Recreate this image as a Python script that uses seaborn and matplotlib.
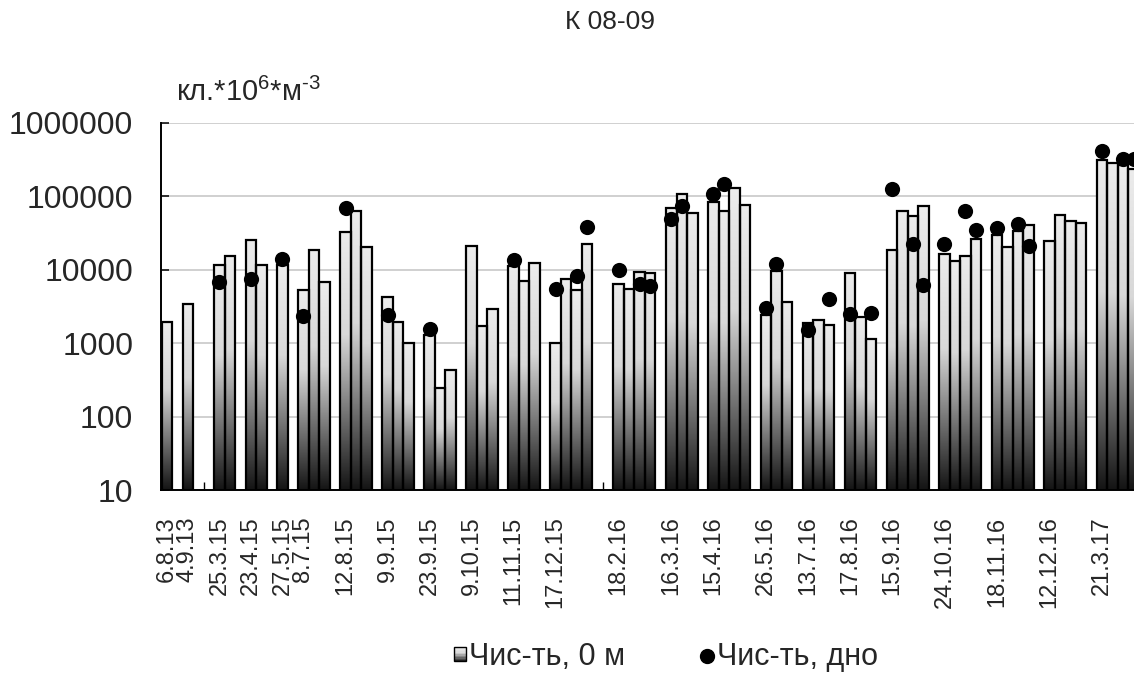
import numpy as np
import pandas as pd
import seaborn as sns
import matplotlib
matplotlib.use('Agg')
from matplotlib import pyplot as plt
from matplotlib.colors import LinearSegmentedColormap
from matplotlib.patches import Rectangle
from matplotlib.lines import Line2D
from matplotlib.legend_handler import HandlerBase
from matplotlib.ticker import NullLocator

N = None

# one entry per spreadsheet row (empty rows keep the gaps between surveys)
labels = ['6.8.13', '', '4.9.13', '', '',
          '25.3.15', '', '',
          '23.4.15', '', '',
          '27.5.15', '',
          '8.7.15', '', '', '',
          '12.8.15', '', '', '',
          '9.9.15', '', '', '',
          '23.9.15', '', '', '',
          '9.10.15', '', '', '',
          '11.11.15', '', '', '',
          '17.12.15', '', '', '', '', '',
          '18.2.16', '', '', '', '',
          '16.3.16', '', '', '',
          '15.4.16', '', '', '', '',
          '26.5.16', '', '', '',
          '13.7.16', '', '', '',
          '17.8.16', '', '', '',
          '15.9.16', '', '', '', '',
          '24.10.16', '', '', '', '',
          '18.11.16', '', '', '', '',
          '12.12.16', '', '', '', '',
          '21.3.17', '', '', '']

# surface (0 m) abundance
surface = [1960, N, 3400, N, N,
           11400, 15500, N,
           25000, 11400, N,
           11400, N,
           5300, 18300, 6700, N,
           32600, 62000, 20300, N,
           4200, 1960, 1000, N,
           1290, 243, 430, N,
           20700, 1720, 2900, N,
           11100, 6900, 12300, N,
           1000, 7500, 5300, 21900, N, N,
           6360, 5500, 9270, 9000, N,
           67700, 105000, 59000, N,
           82600, 62000, 127000, 74500, N,
           2430, 9660, 3570, N,
           1900, 2070, 1770, N,
           9000, 2250, 1140, N,
           18300, 62000, 54000, 73000, N,
           16000, 12900, 15500, 26100, N,
           29900, 20300, 33200, 39700, N,
           24300, 54300, 45500, 43200, N,
           306000, 284000, 261000, 236000]

# bottom abundance
bottom = [N, N, N, N, N,
          6800, N, N,
          7500, N, N,
          14100, N,
          2350, N, N, N,
          69000, N, N, N,
          2430, N, N, N,
          1560, N, N, N,
          N, N, N, N,
          13400, N, N, N,
          5430, N, 8260, 38100, N, N,
          10000, N, 6420, 5900, N,
          48000, 73000, N, N,
          107000, 144000, N, N, N,
          3000, 12000, N, N,
          1480, N, 4000, N,
          2480, N, 2560, N,
          126000, N, 22300, 6220, N,
          22500, N, 62000, 34000, N,
          36900, N, 41000, 20700, N,
          N, N, N, N, N,
          410000, N, 323000, 323000]

y_ticks = [10, 100, 1000, 10000, 100000, 1000000]

sns.set_theme(style='white')
plt.rcParams['font.family'] = ['Liberation Sans', 'DejaVu Sans']
plt.rcParams['mathtext.fontset'] = 'custom'
plt.rcParams['mathtext.rm'] = 'Liberation Sans'
plt.rcParams['mathtext.it'] = 'Liberation Sans:italic'

df = pd.DataFrame({'row': np.arange(len(surface)), 'label': labels,
                   'surface': pd.array(surface, dtype='Float64').astype(float),
                   'bottom': pd.array(bottom, dtype='Float64').astype(float)})
bars_df = df.dropna(subset=['surface'])
dots_df = df.dropna(subset=['bottom'])
ticks_df = df[df['label'] != '']

bar_cmap = LinearSegmentedColormap.from_list(
    'bar', [(0, '#141414'), (0.6, '#d8d8d8'), (1, '#ececec')])

fig = plt.figure(figsize=(11.34, 6.75), dpi=100)
ax = fig.add_axes([161 / 1134, 185 / 675, 973 / 1134, 367.5 / 675])

sns.barplot(data=bars_df, x='row', y='surface', native_scale=True, width=1,
            color='#999999', edgecolor='black', linewidth=1.6, errorbar=None,
            ax=ax, zorder=2)
ax.set_yscale('log')
ax.set_xlim(-0.56, 92.04)
ax.set_ylim(10, 1e6)
ax.set_autoscale_on(False)

# gradient fill inside every bar (light top -> dark bottom)
to_axes = ax.transData + ax.transAxes.inverted()
grad = np.linspace(0, 1, 256).reshape(-1, 1)
for p in ax.patches:
    x0, w, h = p.get_x(), p.get_width(), p.get_height()
    (ax0, ay0), (ax1, ay1) = to_axes.transform([(x0, 10), (x0 + w, h)])
    ax.imshow(grad, cmap=bar_cmap, origin='lower', extent=[ax0, ax1, ay0, ay1],
              transform=ax.transAxes, aspect='auto', interpolation='bilinear',
              zorder=1.9)
    p.set_facecolor('none')

sns.scatterplot(data=dots_df, x='row', y='bottom', color='black', s=120,
                linewidth=0, zorder=3, ax=ax, legend=False)

ax.set_xlim(-0.56, 92.04)
ax.set_ylim(10, 1e6)

ax.set_axisbelow(True)
ax.yaxis.grid(True, color='#c8c8c8', linewidth=1.2)
ax.xaxis.grid(False)
ax.spines['top'].set_visible(False)
ax.spines['right'].set_visible(False)
for s in ['left', 'bottom']:
    ax.spines[s].set_color('black')
    ax.spines[s].set_linewidth(1.4)

ax.set_yticks(y_ticks)
ax.set_yticklabels([str(v) for v in y_ticks])
ax.yaxis.set_minor_locator(NullLocator())
ax.tick_params(axis='y', which='major', direction='in', length=6, width=1.1,
               color='black', labelsize=23, pad=20, left=True)

ax.set_xticks(ticks_df['row'])
ax.set_xticklabels(ticks_df['label'], rotation=90)
ax.set_xticks([3.5, 22.5, 41.5, 60.5, 79.5], minor=True)
ax.tick_params(axis='x', which='major', length=0, labelsize=17, pad=19)
ax.tick_params(axis='x', which='minor', direction='in', length=6, width=1,
               color='black', bottom=True)
ax.set_xlabel('')
ax.set_ylabel('')

fig.text(610 / 1134, 1 - 22 / 675, 'К 08-09', ha='center', va='center',
         fontsize=19)
fig.text(176 / 1134, 1 - 101 / 675,
         r'кл.*10$^{\mathrm{6}}$*м$^{\text{-3}}$',
         ha='left', va='baseline', fontsize=21)


class GradientSquare(HandlerBase):
    def create_artists(self, legend, orig_handle, xdescent, ydescent, width,
                       height, fontsize, trans):
        n = 10
        arts = []
        for i in range(n):
            arts.append(Rectangle((-xdescent, -ydescent + i * height / n),
                                  width, height / n, linewidth=0,
                                  facecolor=bar_cmap((i + 0.5) / n),
                                  transform=trans))
        arts.append(Rectangle((-xdescent, -ydescent), width, height, fill=False,
                              edgecolor='black', linewidth=1, transform=trans))
        return arts


sq = Rectangle((0, 0), 1, 1)
dot = Line2D([], [], marker='o', color='black', linestyle='none', markersize=10)
fig.legend(handles=[sq, dot], labels=['Чис-ть, 0 м', 'Чис-ть, дно'],
           handler_map={sq: GradientSquare()}, loc='center',
           bbox_to_anchor=(666 / 1134, 1 - 657 / 675), ncol=2, frameon=False,
           fontsize=22, handlelength=0.37, handleheight=0.37, handletextpad=0.12,
           columnspacing=2.5)

fig.savefig('out.png', dpi=100)
